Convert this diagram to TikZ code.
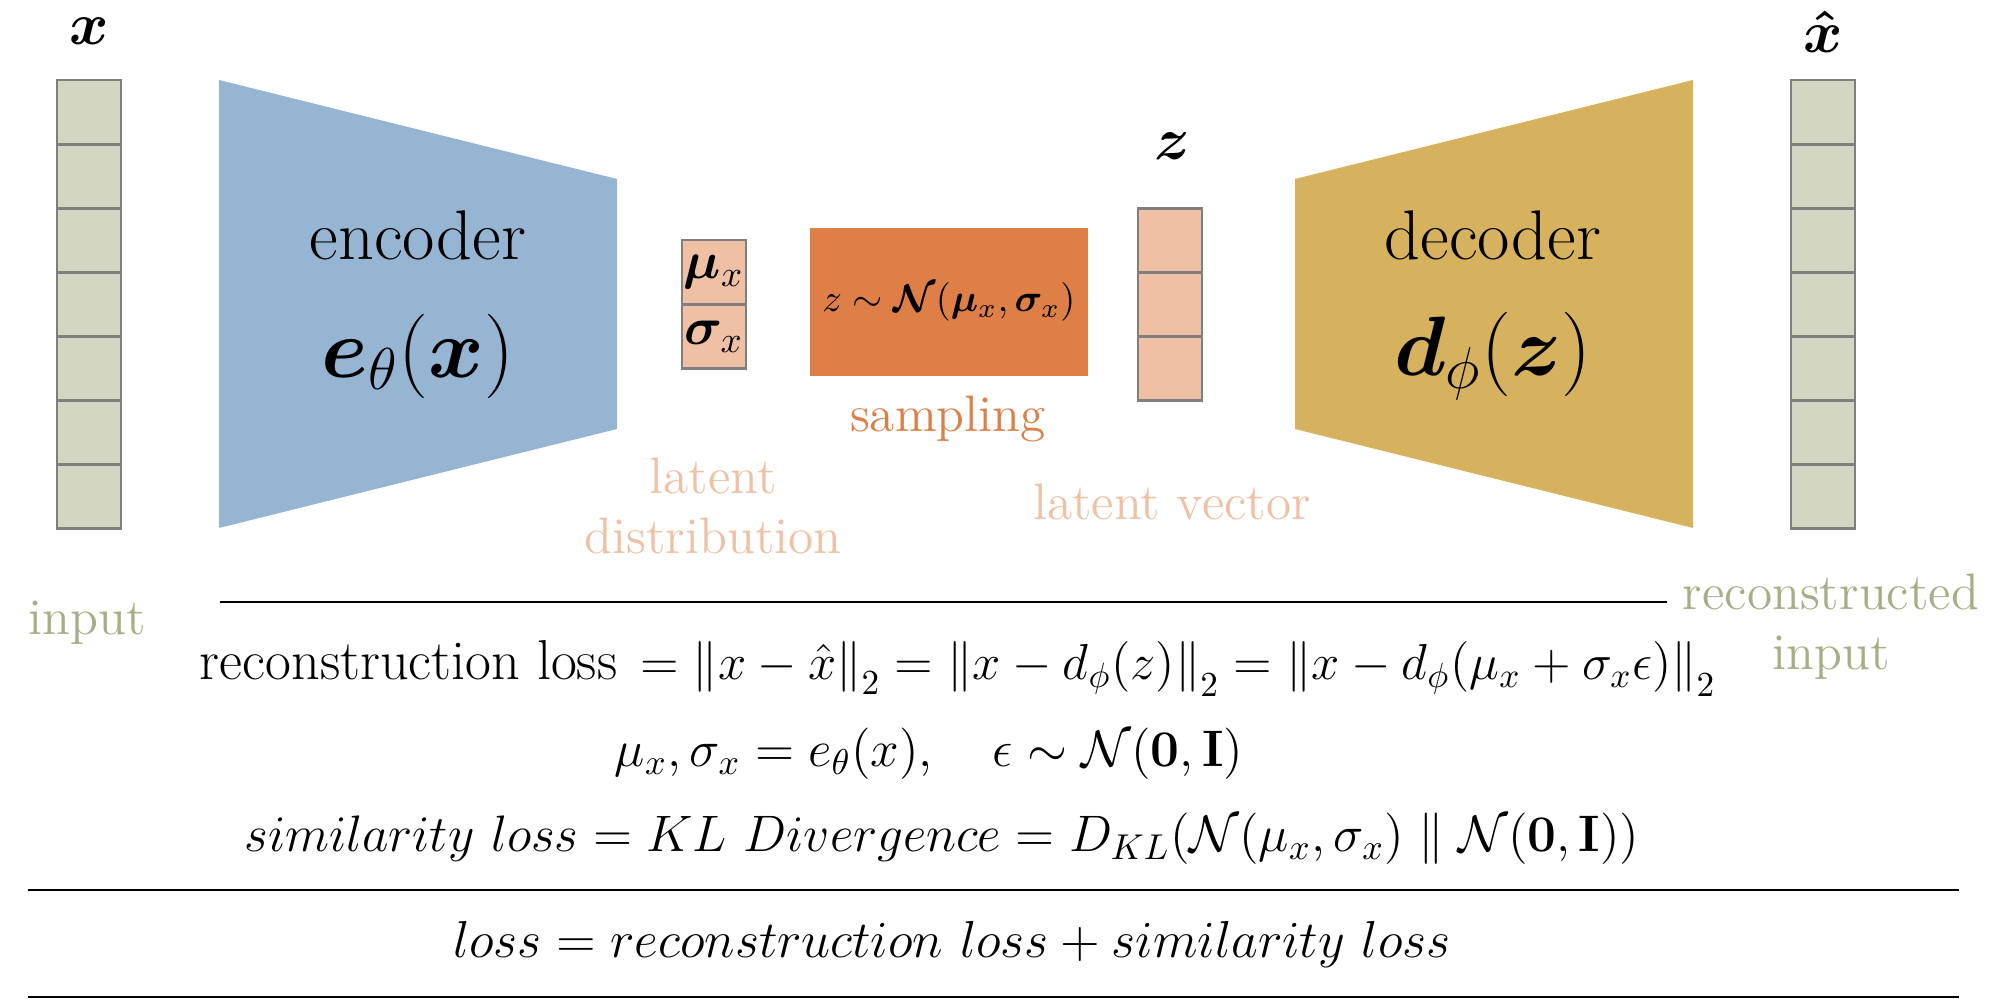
\RequirePackage{fix-cm}
\documentclass[tikz,border=0pt]{standalone}
\usepackage{amsmath}
\usepackage{amssymb}
\usepackage{bm}
\usepackage{xcolor}

\definecolor{ingreen}{HTML}{D3D6C1}
\definecolor{cellgray}{HTML}{7F7F7F}
\definecolor{encblue}{HTML}{95B5D3}
\definecolor{decgold}{HTML}{D7B25E}
\definecolor{latpeach}{HTML}{EFC0A3}
\definecolor{samporange}{HTML}{DE7F48}
\definecolor{inolive}{HTML}{A9AD86}

\tikzset{
  cell/.style={draw=cellgray, line width=0.8pt, minimum width=6.4mm, minimum height=6.41mm, inner sep=0pt},
  txt/.style={inner sep=0pt, font=\fontsize{14.6}{17.2}\selectfont, align=center},
  eq/.style={anchor=base, inner sep=0pt, font=\fontsize{14.6}{17}\selectfont},
  rule/.style={line width=0.75pt}
}

\begin{document}
\begin{tikzpicture}
    [x=0.1mm, y=-0.1mm]
    \useasboundingbox (0,0) rectangle (2000,999);

    % encoder and decoder
    \coordinate (E1) at ( 219,  80);
    \coordinate (E2) at ( 617, 179);
    \coordinate (E3) at ( 617, 429);
    \coordinate (E4) at ( 219, 528);
    \coordinate (D1) at (1295, 179);
    \coordinate (D2) at (1693,  80);
    \coordinate (D3) at (1693, 528);
    \coordinate (D4) at (1295, 429);
    \fill[encblue] (E1) -- (E2) -- (E3) -- (E4) -- cycle;
    \fill[decgold] (D1) -- (D2) -- (D3) -- (D4) -- cycle;

    \node[anchor=base, inner sep=0pt, font=\fontsize{20}{24}\selectfont] (enc) at (418,260) {encoder};
    \node[inner sep=0pt, font=\fontsize{24}{28}\selectfont] (encf) at (418,356) {$\bm{e}_\theta(\bm{x})$};
    \node[anchor=base, inner sep=0pt, font=\fontsize{20}{24}\selectfont] (dec) at (1493,260) {decoder};
    \node[inner sep=0pt, font=\fontsize{24}{28}\selectfont] (decf) at (1493,356) {$\bm{d}_\phi(\bm{z})$};

    % input and output columns
    \foreach \i in {1,...,7}{
      \node[cell, fill=ingreen] (in\i) at (89, 48+64.1*\i) {};
      \node[cell, fill=ingreen] (out\i) at (1823, 48+64.1*\i) {};
    }
    \node[anchor=base, inner sep=0pt, font=\fontsize{17}{20}\selectfont] (xlab) at (89,45) {$\bm{x}$};
    \node[anchor=base, inner sep=0pt, font=\fontsize{17}{20}\selectfont] (xhatlab) at (1823,53) {$\bm{\hat{x}}$};

    % latent distribution
    \node[cell, fill=latpeach, font=\fontsize{15}{17}\selectfont] (mu) at (714,272) {$\bm{\mu}_x$};
    \node[cell, fill=latpeach, font=\fontsize{15}{17}\selectfont] (sigma) at (714,336.4) {$\bm{\sigma}_x$};
    \node[txt, anchor=north, text=latpeach] (latdist) at (713,457) {latent\\distribution};

    % sampling
    \node[fill=samporange, minimum width=27.75mm, minimum height=14.8mm, inner sep=0pt,
          font=\fontsize{11}{13}\selectfont] (samp) at (949,302) {$z\sim\bm{\mathcal{N}}(\bm{\mu}_x,\bm{\sigma}_x)$};
    \node[txt, text=samporange] (samplab) at (948,419) {sampling};

    % latent vector
    \foreach \i in {1,2,3}{
      \node[cell, fill=latpeach] (z\i) at (1170, 175.9+64.3*\i) {};
    }
    \node[anchor=base, inner sep=0pt, font=\fontsize{17}{20}\selectfont] (zlab) at (1172,160) {$\bm{z}$};
    \node[txt, anchor=base, text=latpeach] (latvec) at (1172,520) {latent vector};

    % input labels
    \node[txt, anchor=base, text=inolive] (inlab) at (87,635) {input};
    \node[txt, anchor=north, text=inolive] (outlab) at (1831,573) {reconstructed\\input};

    % losses
    \draw[rule] (220,602) -- (1667,602);
    \node[eq] (rec) at (958,680) {\fontsize{16}{18}\selectfont reconstruction loss\hspace{6.5pt}\fontsize{14.4}{17}\selectfont$=\left\|x-\hat{x}\right\|_2=\left\|x-d_\phi(z)\right\|_2=\left\|x-d_\phi(\mu_x+\sigma_x\epsilon)\right\|_2$};
    \node[eq] (enceq) at (929,767) {$\mu_x,\sigma_x=e_\theta(x),\quad\epsilon\sim\mathcal{N}(\mathbf{0},\mathbf{I})$};
    \node[eq] (sim) at (942,852) {$similarity\ loss=KL\ Divergence=D_{KL}(\mathcal{N}(\mu_x,\sigma_x)\parallel\mathcal{N}(\mathbf{0},\mathbf{I}))$};
    \draw[rule] (28,890) -- (1959,890);
    \node[eq, font=\fontsize{14.8}{17}\selectfont] (loss) at (952,958) {$loss=reconstruction\ loss+similarity\ loss$};
    \draw[rule] (28,997) -- (1959,997);
\end{tikzpicture}
\end{document}
